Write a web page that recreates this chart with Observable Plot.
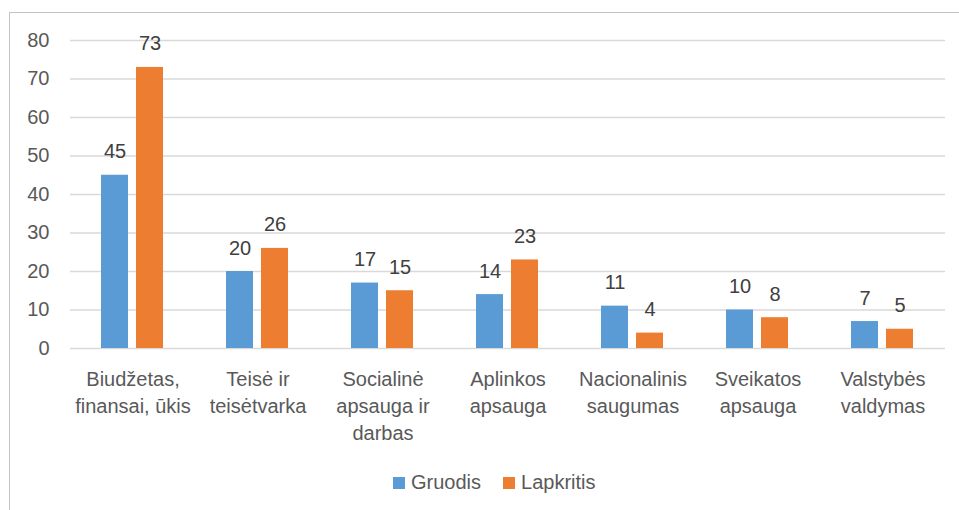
<!DOCTYPE html>
<html><head><meta charset="utf-8">
<script src="https://cdn.jsdelivr.net/npm/d3@7"></script>
<script src="https://cdn.jsdelivr.net/npm/@observablehq/plot@0.6"></script>
<style>
body{margin:0;background:#fff;width:959px;height:510px;overflow:hidden;position:relative;font-family:"Liberation Sans",Arial,sans-serif;}
#frame{position:absolute;left:9px;top:12px;width:980px;height:540px;border-top:1.5px solid #c3c3c3;border-left:1.5px solid #c3c3c3;}
#chart{position:absolute;left:0;top:0}
#legend{position:absolute;top:471px;left:393px;display:flex;align-items:center;font-size:20px;color:#595959;}
#legend .sw{width:12px;height:12px;display:inline-block;margin-right:6px}
#legend .item{display:flex;align-items:center;margin-right:22px}
</style></head>
<body>
<div id="frame"></div>
<div id="chart"></div>
<div id="legend"></div>
<script>
const categories = ["Biudžetas,\nfinansai, ūkis","Teisė ir\nteisėtvarka","Socialinė\napsauga ir\ndarbas","Aplinkos\napsauga","Nacionalinis\nsaugumas","Sveikatos\napsauga","Valstybės\nvaldymas"];
const series = ["Gruodis","Lapkritis"];
const gruodis = [45,20,17,14,11,10,7];
const lapkritis = [73,26,15,23,4,8,5];
const colors = ["#5b9bd5","#ed7d31"];
const yTicks = [0,10,20,30,40,50,60,70,80];

const data = [];
categories.forEach((c,i)=>{
  data.push({cat:c, series:series[0], value:gruodis[i]});
  data.push({cat:c, series:series[1], value:lapkritis[i]});
});

const font = '"Liberation Sans", Arial, sans-serif';
const chart = Plot.plot({
  width:959, height:460,
  marginLeft:69, marginRight:13, marginTop:40, marginBottom:112,
  style:{fontFamily:font, fontSize:"20px", color:"#595959", background:"transparent"},
  fx:{domain:categories, padding:0, label:null},
  x:{domain:series, paddingInner:0.222, paddingOuter:0.85, axis:null},
  y:{domain:[0,80], label:null},
  color:{domain:series, range:colors},
  marks:[
    Plot.gridY(yTicks,{stroke:"#d9d9d9", strokeOpacity:1, strokeWidth:1.5}),
    Plot.axisY(yTicks,{tickSize:0, tickPadding:21, fontSize:20, fill:"#595959"}),
    Plot.axisFx({anchor:"bottom", tickSize:0, tickPadding:18, fontSize:20, lineHeight:1.36, fill:"#595959", label:null}),
    Plot.barY(data,{fx:"cat", x:"series", y:"value", fill:"series"}),
    Plot.text(data,{fx:"cat", x:"series", y:"value", text:d=>String(d.value), lineAnchor:"bottom", dy:-17, fontSize:20, fill:"#404040"})
  ]
});
document.getElementById("chart").appendChild(chart);

const leg = document.getElementById("legend");
series.forEach((s,i)=>{
  const it = document.createElement("span"); it.className="item";
  const sw = document.createElement("span"); sw.className="sw"; sw.style.background=colors[i];
  it.appendChild(sw); it.appendChild(document.createTextNode(s));
  leg.appendChild(it);
});
</script>
</body></html>
